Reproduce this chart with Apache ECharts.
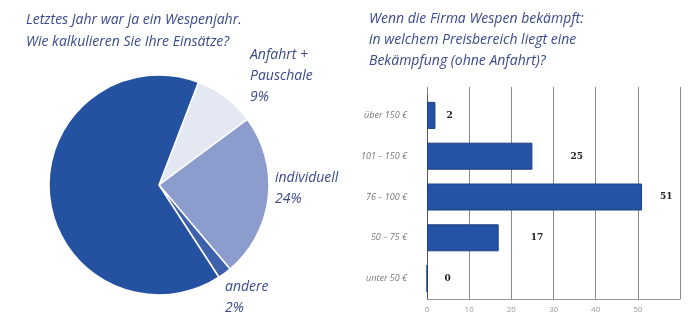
<!DOCTYPE html>
<html>
<head>
<meta charset="utf-8">
<script src="https://cdn.jsdelivr.net/npm/echarts@6/dist/echarts.min.js"></script>
<style>
html,body{margin:0;padding:0;background:#fff;}
#c{width:700px;height:332px;}
</style>
</head>
<body>
<div id="c"></div>
<script>
// Pie data
const pieNames = ['Anfahrt +\nPauschale', 'individuell', 'andere', 'Pauschale'];
const pieValues = [9, 24, 2, 65];

// Bar data
const barCategories = ['unter 50 €', '50 – 75 €', '76 – 100 €', '101 – 150 €', 'über 150 €'];
const barValues = [0, 17, 51, 25, 2];
const xTicks = [0, 10, 20, 30, 40, 50];

const pieTitle = 'Letztes Jahr war ja ein Wespenjahr.\nWie kalkulieren Sie Ihre Einsätze?';
const barTitle = 'Wenn die Firma Wespen bekämpft:\nin welchem Preisbereich liegt eine\nBekämpfung (ohne Anfahrt)?';

// layout (not data)
const pieColors = ['#e4e8f3', '#8c9dcd', '#3d62ab', '#2451a0'];
const pieLabelPos = [[250, 45], [275, 168], [225, 277], [7, 249]];
const barLabelDist = [17, 32, 18, 38, 11];

const chart = echarts.init(document.getElementById('c'));
const textColor = '#3b4a8b';
const font = '"Open Sans", "Noto Sans", sans-serif';

chart.setOption({
  animation: false,
  backgroundColor: '#fff',
  title: [
    {text: pieTitle, left: 21, top: 4,
     textStyle: {color: textColor, fontSize: 14, fontStyle: 'italic', fontWeight: 'normal', fontFamily: font, lineHeight: 22}},
    {text: barTitle, left: 364, top: 4,
     textStyle: {color: textColor, fontSize: 14, fontStyle: 'italic', fontWeight: 'normal', fontFamily: font, lineHeight: 21}}
  ],
  grid: [
    {left: 427, right: 20, top: 87, bottom: 33},
    {left: 427, right: 20, top: 95, bottom: 33}
  ],
  xAxis: [
    {type: 'value', gridIndex: 0, min: 0, max: 60, interval: 10,
     axisLine: {show: true, lineStyle: {color: '#999'}},
     axisTick: {show: false},
     splitLine: {show: true, lineStyle: {color: '#8a8a8a', width: 1}},
     axisLabel: {color: '#999', fontSize: 8, fontFamily: font, margin: 7,
       formatter: v => (xTicks.indexOf(v) >= 0 ? String(v) : '')}},
    {type: 'value', gridIndex: 1, min: 0, max: 60, interval: 10, show: false}
  ],
  yAxis: [
    {type: 'value', gridIndex: 0, min: 0, max: 1, show: false},
    {type: 'category', gridIndex: 1, data: barCategories,
     axisLine: {show: true, lineStyle: {color: '#555'}},
     axisTick: {show: false},
     axisLabel: {color: '#777', fontSize: 9, fontStyle: 'italic', fontFamily: font, margin: 20}}
  ],
  series: [
    {
      type: 'pie',
      center: [159, 185],
      radius: 110,
      startAngle: 69,
      clockwise: true,
      data: pieNames.map((n, i) => ({name: n, value: pieValues[i], itemStyle: {color: pieColors[i]}})),
      itemStyle: {borderColor: '#fff', borderWidth: 1.5},
      label: {show: true, formatter: '{b}\n{d}%', color: textColor, fontSize: 14, fontStyle: 'italic', fontFamily: font, lineHeight: 21, align: 'left'},
      labelLine: {show: false},
      labelLayout: p => ({x: pieLabelPos[p.dataIndex][0], y: pieLabelPos[p.dataIndex][1], align: 'left', verticalAlign: 'top'}),
      emphasis: {disabled: true}
    },
    {
      type: 'bar',
      xAxisIndex: 1,
      yAxisIndex: 1,
      data: barValues.map((v, i) => ({value: v, label: {distance: barLabelDist[i]}})),
      barWidth: 27,
      itemStyle: {color: '#2553a3', borderColor: '#1b3f85', borderWidth: 1},
      label: {show: true, position: 'right', color: '#222', fontSize: 9, fontWeight: 'bold', fontFamily: '"DejaVu Serif", serif'}
    }
  ]
});
</script>
</body>
</html>
